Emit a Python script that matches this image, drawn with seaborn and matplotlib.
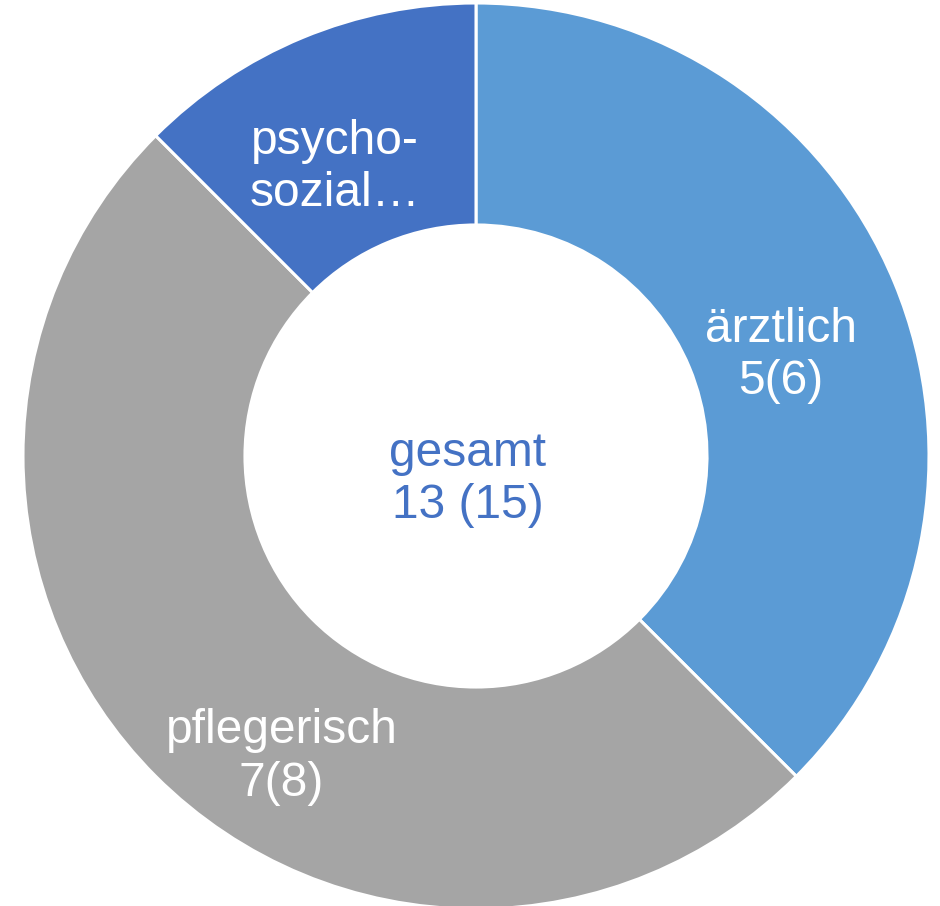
import matplotlib
matplotlib.use("Agg")
import matplotlib.pyplot as plt
import seaborn as sns

# data (slice sizes follow the values in brackets)
categories = ["ärztlich", "pflegerisch", "psycho-sozial"]
values = [6, 8, 2]
labels = ["ärztlich\n5(6)", "pflegerisch\n7(8)", "psycho-\nsozial…"]
center_label = "gesamt\n13 (15)"
colors = ["#5B9BD5", "#A5A5A5", "#4472C4"]

sns.set_style("white")
plt.rcParams["font.family"] = ["Liberation Sans", "DejaVu Sans"]

W, H = 940, 906
fig = plt.figure(figsize=(W / 100, H / 100), dpi=100)
cx, cy, R = 476, 456, 453
ax = fig.add_axes([(cx - R) / W, (H - cy - R) / H, 2 * R / W, 2 * R / H])
ax.axis("off")

ax.pie(values, colors=colors, startangle=90, counterclock=False, radius=1,
       wedgeprops=dict(width=0.49, edgecolor="white", linewidth=2.2))
ax.set_xlim(-1, 1)
ax.set_ylim(-1, 1)
ax.set_aspect("auto")

# label positions (axes data units)
label_pos = [(0.673, 0.222), (-0.429, -0.665), (-0.312, 0.637)]
for (x, y), txt in zip(label_pos, labels):
    ax.text(x, y, txt, ha="center", va="center", color="white",
            fontsize=34.5, linespacing=1.22)

ax.text(-0.018, -0.052, center_label, ha="center", va="center",
        color="#4472C4", fontsize=34.5, linespacing=1.22)

fig.savefig("out.png", dpi=100)
